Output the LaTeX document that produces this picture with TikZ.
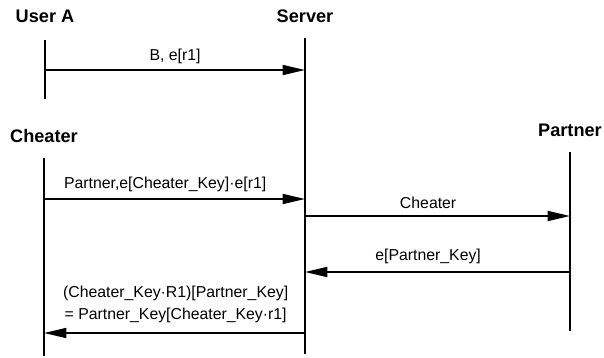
\documentclass[tikz,border=0pt]{standalone}
\usepackage{fontspec}
\setmainfont{Liberation Sans}
\usepackage{tikz}
\usetikzlibrary{arrows.meta, positioning}

\begin{document}
\begin{tikzpicture}[
    x=0.03cm, y=-0.03cm,
    participant/.style={font=\bfseries\fontsize{15.5}{18}\selectfont, inner sep=0pt},
    lifeline/.style={line width=1.5pt},
    message/.style={line width=1.4pt, -{Triangle[length=19pt, width=8.5pt]}},
    msglabel/.style={font=\fontsize{13.5}{18.8}\selectfont, align=center}
]
\useasboundingbox (0,0) rectangle (604,358);

% Participants
\node[participant] (usera) at (45,16) {User A};
\node[participant] (server) at (305,16) {Server};
\node[participant] (cheater) at (44,136) {Cheater};
\node[participant] (partner) at (570,130) {Partner};

% Time lines
\draw[lifeline] (usera |- 0,40) -- (usera |- 0,99);
\draw[lifeline] (server |- 0,38) -- (server |- 0,354);
\draw[lifeline] (cheater |- 0,158) -- (cheater |- 0,356);
\draw[lifeline] (partner |- 0,152) -- (partner |- 0,331);

% Messages
\coordinate (u1) at (usera |- 0,70);
\coordinate (s1) at (server |- 0,70);
\draw[message] (u1) -- (s1) node[msglabel, midway, above=1pt] {B, e[r1]};

\coordinate (c2) at (cheater |- 0,199);
\coordinate (s2) at (server |- 0,199);
\draw[message] (c2) -- (s2) node[msglabel, midway, above=2pt, xshift=-8pt] {Partner,e[Cheater\_Key]·e[r1]};

\coordinate (s3) at (server |- 0,216);
\coordinate (p3) at (partner |- 0,216);
\draw[message] (s3) -- (p3) node[msglabel, midway, above=2pt, xshift=-8pt] {Cheater};

\coordinate (p4) at (partner |- 0,272);
\coordinate (s4) at (server |- 0,272);
\draw[message] (p4) -- (s4) node[msglabel, midway, above=3pt, xshift=-8pt] {e[Partner\_Key]};

\coordinate (s5) at (server |- 0,333);
\coordinate (c5) at (cheater |- 0,333);
\draw[message] (s5) -- (c5) node[msglabel, midway, above=5pt, xshift=1pt] {(Cheater\_Key·R1)[Partner\_Key]\\ = Partner\_Key[Cheater\_Key·r1]};

\end{tikzpicture}
\end{document}
